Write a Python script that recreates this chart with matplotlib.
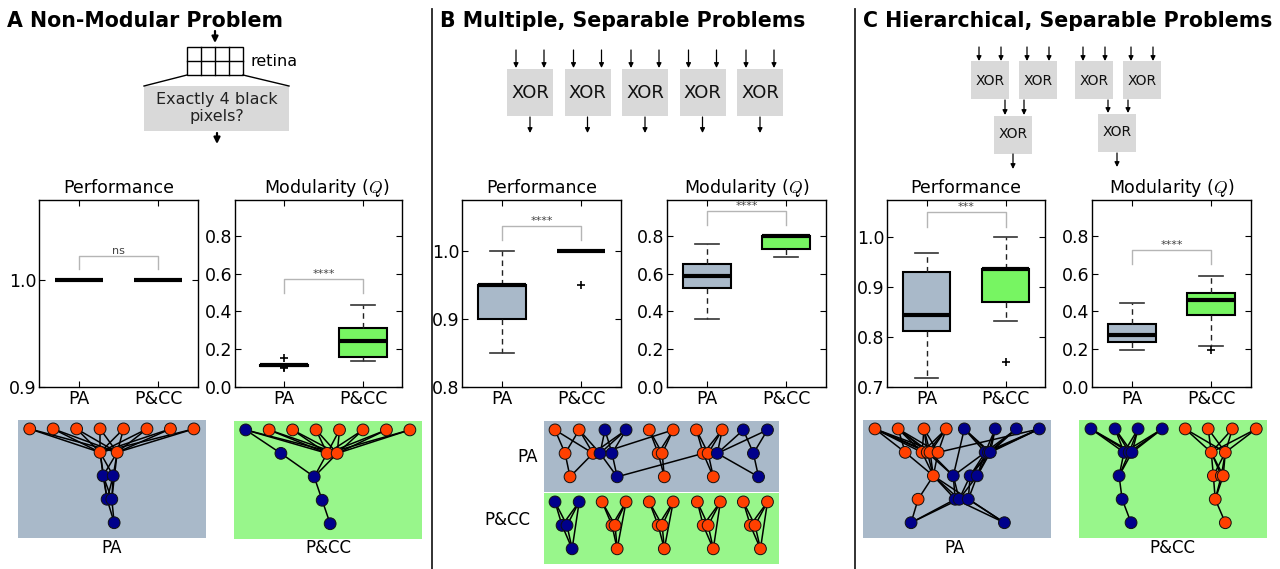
import numpy as np
import matplotlib
matplotlib.use("Agg")
import matplotlib.pyplot as plt
from matplotlib.patches import Rectangle
from matplotlib.collections import LineCollection
from matplotlib.ticker import FormatStrFormatter

plt.rcParams["mathtext.fontset"] = "cm"

# ---------------- data ----------------
GROUPS = ["PA", "P&CC"]

# box stats: [whislo, q1, med, q3, whishi]
A_PERF_PA = [1.0, 1.0, 1.0, 1.0, 1.0]
A_PERF_PCC = [1.0, 1.0, 1.0, 1.0, 1.0]
A_MOD_PA = [0.112, 0.111, 0.114, 0.117, 0.118]
A_MOD_PA_FLIERS = [0.153, 0.100, 0.106]
A_MOD_PCC = [0.14, 0.16, 0.245, 0.311, 0.435]

B_PERF_PA = [0.85, 0.90, 0.95, 0.95, 1.0]
B_PERF_PCC = [1.0, 1.0, 1.0, 1.0, 1.0]
B_PERF_PCC_FLIERS = [0.95]
B_MOD_PA = [0.359, 0.526, 0.590, 0.651, 0.757]
B_MOD_PCC = [0.688, 0.731, 0.80, 0.80, 0.80]

C_PERF_PA = [0.719, 0.813, 0.844, 0.931, 0.969]
C_PERF_PCC = [0.832, 0.870, 0.937, 0.937, 1.0]
C_PERF_PCC_FLIERS = [0.75]
C_MOD_PA = [0.196, 0.238, 0.276, 0.334, 0.443]
C_MOD_PCC = [0.215, 0.380, 0.460, 0.496, 0.588]
C_MOD_PCC_FLIERS = [0.194]

# significance: (label, leg bottom, bracket top)
SIG_A_PERF = ("ns", 1.010, 1.023)
SIG_A_MOD = ("****", 0.496, 0.572)
SIG_B_PERF = ("****", 1.016, 1.037)
SIG_B_MOD = ("****", 0.857, 0.933)
SIG_C_PERF = ("***", 1.021, 1.050)
SIG_C_MOD = ("****", 0.649, 0.725)

# networks: node x (in node spacings), layer, colour (r/b), edges
NA_PA_X = [0.5, 1.5, 2.5, 3.5, 4.5, 5.5, 6.5, 7.5, 3.5, 4.23, 3.63, 4.06, 3.8, 4.0, 4.1]
NA_PA_L = [0, 0, 0, 0, 0, 0, 0, 0, 1, 1, 2, 2, 3, 3, 4]
NA_PA_C = "rrrrrrrrrrbbbbb"

NA_PCC_X = [0.5, 1.5, 2.5, 3.5, 4.5, 5.5, 6.5, 7.5, 2.0, 3.97, 4.4, 3.42, 3.76, 4.1]
NA_PCC_L = [0, 0, 0, 0, 0, 0, 0, 0, 1, 1, 1, 2, 3, 4]
NA_PCC_C = "brrrrrrrbrrbbb"

NB_PA_X = [0.47, 1.5, 2.6, 3.5, 4.49, 5.51, 6.5, 7.6, 8.5, 9.53,
           0.9, 2.09, 2.39, 2.9, 4.87, 5.04, 6.79, 7.0, 7.39, 8.93,
           1.11, 3.12, 5.13, 7.22, 9.15]
NB_PA_L = [0] * 10 + [1] * 10 + [2] * 5
NB_PA_C = "rrbbrrrrbb" + "rrbbrrrrbb" + "rbrrb"

NB_PCC_X = [0.47, 1.5, 2.48, 3.5, 4.49, 5.51, 6.54, 7.52, 8.5, 9.53,
            0.77, 0.98, 2.9, 3.03, 4.87, 5.04, 6.79, 7.0, 8.8, 9.0,
            1.2, 3.12, 5.13, 7.22, 9.23]
NB_PCC_L = [0] * 10 + [1] * 10 + [2] * 5
NB_PCC_C = "bbrrrrrrrr" + "bbrrrrrrrr" + "brrrr"

NC_PA_X = [0.51, 1.5, 2.6, 3.55, 4.32, 5.64, 6.54, 7.52,
           1.8, 2.52, 2.74, 2.86, 3.2, 5.21, 5.35, 5.43,
           3.0, 3.85, 4.57, 4.87,
           2.35, 3.93, 4.1, 4.49,
           2.05, 6.03]
NC_PA_L = [0] * 8 + [1] * 8 + [2] * 4 + [3] * 4 + [4] * 2
NC_PA_C = "rrrrbbbb" + "rrrrrbbb" + "rbbb" + "rbbb" + "bb"

NC_PCC_X = [0.51, 1.54, 2.52, 3.55, 4.53, 5.51, 6.54, 7.56,
            1.92, 2.14, 2.26, 5.64, 6.24,
            1.71, 5.73, 6.07, 6.15,
            1.84, 5.81,
            2.22, 6.24]
NC_PCC_L = [0] * 8 + [1] * 5 + [2] * 4 + [3] * 2 + [4] * 2
NC_PCC_C = "bbbbrrrr" + "bbbrr" + "brrr" + "br" + "br"


def full(a, b):
    return [(i, j) for i in a for j in b]


NA_PA_E = full(range(8), [8, 9]) + [(8, 10), (8, 11), (9, 10), (9, 11), (8, 12), (9, 13),
                                    (10, 12), (10, 13), (11, 12), (11, 13), (12, 14), (13, 14)]
NA_PCC_E = [(0, 8), (0, 9), (0, 10)] + full(range(1, 8), [9, 10]) + \
    [(8, 11), (9, 11), (10, 11), (11, 12), (12, 13)]

NB_PA_E = [(0, 10), (0, 11), (1, 10), (1, 11), (10, 20), (11, 20),
           (2, 12), (2, 13), (3, 12), (3, 13), (12, 21), (13, 21),
           (4, 14), (4, 15), (5, 14), (5, 15), (14, 22), (15, 22),
           (6, 16), (6, 17), (7, 16), (7, 17), (16, 23), (17, 23),
           (8, 18), (8, 19), (9, 18), (9, 19), (18, 24), (19, 24),
           (11, 3), (12, 5), (21, 16), (7, 18), (1, 12)]
NB_PCC_E = []
for m in range(5):
    NB_PCC_E += [(2 * m, 10 + 2 * m), (2 * m, 11 + 2 * m), (2 * m + 1, 10 + 2 * m),
                 (2 * m + 1, 11 + 2 * m), (10 + 2 * m, 20 + m), (11 + 2 * m, 20 + m),
                 (2 * m + 1, 20 + m)]

NC_PA_E = full([0, 1, 2, 3], [9, 10, 11, 12]) + [(0, 8), (1, 8), (12, 7)] + \
    full([4, 5, 6, 7], [13, 14, 15]) + \
    [(8, 16), (9, 16), (10, 16), (11, 16), (12, 16), (10, 17), (11, 17), (4, 17)] + \
    full([13, 14, 15], [18, 19]) + [(13, 17)] + \
    [(16, 20), (16, 21), (16, 22), (17, 21), (17, 22), (18, 22), (18, 23), (19, 23), (19, 22)] + \
    [(20, 24), (21, 24), (22, 24), (21, 25), (23, 25), (16, 25)]
NC_PCC_E = full([0, 1, 2, 3], [8, 9, 10]) + [(8, 13), (9, 13), (10, 13), (13, 17), (17, 19)] + \
    full([4, 5, 6, 7], [11, 12]) + full([11, 12], [14, 15, 16]) + \
    [(14, 18), (15, 18), (16, 18), (18, 20)]

# ---------------- style / layout ----------------
W, H = 1280, 569
PA_COL = "#a9b9c9"
PCC_BOX = "#77f562"
PCC_BG = "#98f68b"
RED = "#ff4000"
BLUE = "#00008b"
GRAY_BOX = "#d9d9d9"
UNIT = 23.45  # px per node spacing

fig = plt.figure(figsize=(12.8, 5.69), dpi=100)


def px_axes(x0, y0, x1, y1, **kw):
    return fig.add_axes([x0 / W, 1 - y1 / H, (x1 - x0) / W, (y1 - y0) / H], **kw)


def draw_box(ax, pa, pcc, fl_pa, fl_pcc, sig, ylim, yticks, title, xlim=(0.5, 2.5), tx=0.5):
    stats = []
    for s, f, name in zip([pa, pcc], [fl_pa, fl_pcc], GROUPS):
        stats.append(dict(whislo=s[0], q1=s[1], med=s[2], q3=s[3], whishi=s[4],
                          fliers=f, label=name))
    res = ax.bxp(stats, positions=[1, 2], widths=0.6, patch_artist=True,
                 boxprops=dict(edgecolor="k", linewidth=1.5),
                 medianprops=dict(color="k", linewidth=3.0, solid_capstyle="butt"),
                 whiskerprops=dict(color="#222222", linestyle=(0, (4, 3)), linewidth=1.0),
                 capprops=dict(color="#333333", linewidth=1.2),
                 flierprops=dict(marker="+", markeredgecolor="k", markersize=6,
                                 markeredgewidth=1.2, linestyle="none"))
    for patch, col in zip(res["boxes"], [PA_COL, PCC_BOX]):
        patch.set_facecolor(col)
    label, lo, hi = sig
    ax.plot([1, 1, 2, 2], [lo, hi, hi, lo], color="#b5b5b5", lw=1.0)
    ax.text(1.5, hi, label, ha="center", va="bottom", fontsize=8, color="#444444")
    ax.set_xlim(*xlim)
    ax.set_ylim(*ylim)
    ax.set_yticks(yticks)
    ax.yaxis.set_major_formatter(FormatStrFormatter("%.1f"))
    ax.set_xticks([1, 2])
    ax.set_xticklabels(GROUPS)
    ax.tick_params(direction="in", top=True, right=True, length=4, width=0.8,
                   labelsize=12.5, pad=2)
    for sp in ax.spines.values():
        sp.set_linewidth(1.0)
    ax.set_title(title, fontsize=12.5, pad=5, x=tx)


MOD_TICKS = [0.0, 0.2, 0.4, 0.6, 0.8]
MOD_TITLE = "Modularity ($Q$)"

ax = px_axes(39, 200, 198, 387)
draw_box(ax, A_PERF_PA, A_PERF_PCC, [], [], SIG_A_PERF, (0.9, 1.075), [0.9, 1.0], "Performance")
ax = px_axes(235, 200, 402, 387)
draw_box(ax, A_MOD_PA, A_MOD_PCC, A_MOD_PA_FLIERS, [], SIG_A_MOD, (0, 0.99), MOD_TICKS,
         MOD_TITLE, xlim=(0.38, 2.49), tx=0.55)

ax = px_axes(462, 200, 621, 387)
draw_box(ax, B_PERF_PA, B_PERF_PCC, [], B_PERF_PCC_FLIERS, SIG_B_PERF, (0.8, 1.075),
         [0.8, 0.9, 1.0], "Performance")
ax = px_axes(667, 200, 826, 387)
draw_box(ax, B_MOD_PA, B_MOD_PCC, [], [], SIG_B_MOD, (0, 0.99), MOD_TICKS, MOD_TITLE)

ax = px_axes(887, 200, 1045, 387)
draw_box(ax, C_PERF_PA, C_PERF_PCC, [], C_PERF_PCC_FLIERS, SIG_C_PERF, (0.7, 1.075),
         [0.7, 0.8, 0.9, 1.0], "Performance")
ax = px_axes(1092, 200, 1251, 387)
draw_box(ax, C_MOD_PA, C_MOD_PCC, [], C_MOD_PCC_FLIERS, SIG_C_MOD, (0, 0.99), MOD_TICKS, MOD_TITLE)


# ---------------- networks ----------------
def draw_net(box, xs, layers, cols, edges, bg):
    x0, y0, x1, y1 = box
    ax = px_axes(x0, y0, x1, y1)
    ax.set_facecolor(bg)
    off = 0.38
    ax.set_xlim(0, (x1 - x0) / UNIT)
    ax.set_ylim((y1 - y0) / UNIT - off, -off)
    xs = np.asarray(xs, float)
    ys = np.asarray(layers, float)
    segs = [[(xs[i], ys[i]), (xs[j], ys[j])] for i, j in edges]
    ax.add_collection(LineCollection(segs, colors="k", linewidths=1.1, zorder=2))
    c = [RED if ch == "r" else BLUE for ch in cols]
    ax.scatter(xs, ys, s=72, c=c, edgecolors="#111111", linewidths=0.7, zorder=3)
    ax.set_xticks([])
    ax.set_yticks([])
    for sp in ax.spines.values():
        sp.set_visible(False)


draw_net((18, 420, 206, 538), NA_PA_X, NA_PA_L, NA_PA_C, NA_PA_E, PA_COL)
draw_net((234, 421, 422, 539), NA_PCC_X, NA_PCC_L, NA_PCC_C, NA_PCC_E, PCC_BG)
draw_net((544, 421, 779, 492), NB_PA_X, NB_PA_L, NB_PA_C, NB_PA_E, PA_COL)
draw_net((544, 493, 779, 564), NB_PCC_X, NB_PCC_L, NB_PCC_C, NB_PCC_E, PCC_BG)
draw_net((863, 420, 1051, 538), NC_PA_X, NC_PA_L, NC_PA_C, NC_PA_E, PA_COL)
draw_net((1079, 420, 1267, 538), NC_PCC_X, NC_PCC_L, NC_PCC_C, NC_PCC_E, PCC_BG)

# ---------------- overlay: titles, diagrams, dividers ----------------
ov = fig.add_axes([0, 0, 1, 1], zorder=10)
ov.set_xlim(0, W)
ov.set_ylim(H, 0)
ov.axis("off")

ov.text(7, 27, "A Non-Modular Problem", fontsize=14.8, fontweight="bold", va="baseline")
ov.text(440, 27, "B Multiple, Separable Problems", fontsize=14.8, fontweight="bold", va="baseline")
ov.text(863, 27, "C Hierarchical, Separable Problems", fontsize=14.8, fontweight="bold",
        va="baseline")

ov.plot([432, 432], [9, H], color="#222222", lw=1.3)
ov.plot([855, 855], [9, H], color="#222222", lw=1.3)


def arrow(x, y0, y1, lw=0.9, ms=7):
    ov.annotate("", xy=(x, y1), xytext=(x, y0),
                arrowprops=dict(arrowstyle="-|>", color="k", lw=lw, mutation_scale=ms,
                                shrinkA=0, shrinkB=0))


# panel A diagram
arrow(215, 31, 43, lw=1.6, ms=9)
gx0, gx1, gy0, gy1 = 187, 243, 47, 75
ov.add_patch(Rectangle((gx0, gy0), gx1 - gx0, gy1 - gy0, fill=False, ec="k", lw=1.0))
for k in range(1, 4):
    xx = gx0 + k * (gx1 - gx0) / 4
    ov.plot([xx, xx], [gy0, gy1], color="k", lw=1.0)
ov.plot([gx0, gx1], [(gy0 + gy1) / 2] * 2, color="k", lw=1.0)
ov.text(250, 61, "retina", fontsize=11.5, ha="left", va="center")
ov.plot([gx0, 144], [gy1, 86], color="k", lw=1.0)
ov.plot([gx1, 289], [gy1, 86], color="k", lw=1.0)
ov.add_patch(Rectangle((144, 86), 145, 45, fc=GRAY_BOX, ec="none"))
ov.text(217, 108, "Exactly 4 black\npixels?", fontsize=11.5, ha="center", va="center",
        linespacing=1.2, color="#222222")
arrow(217, 133, 144, lw=1.6, ms=9)

# panel B diagram
for i in range(5):
    left = 507 + 57.5 * i
    ov.add_patch(Rectangle((left, 69), 46, 47, fc=GRAY_BOX, ec="none"))
    ov.text(left + 23, 93, "XOR", fontsize=13, ha="center", va="center", color="#111111")
    arrow(left + 9, 50, 68)
    arrow(left + 37, 50, 68)
    arrow(left + 23, 117, 133)

# panel C diagram
for left in [971, 1019, 1075, 1123]:
    ov.add_patch(Rectangle((left, 61), 38, 38, fc=GRAY_BOX, ec="none"))
    ov.text(left + 19, 81, "XOR", fontsize=10, ha="center", va="center", color="#111111")
    arrow(left + 8, 47, 61)
    arrow(left + 30, 47, 61)
for left, top in [(994, 116), (1098, 114)]:
    ov.add_patch(Rectangle((left, top), 38, 38, fc=GRAY_BOX, ec="none"))
    ov.text(left + 19, top + 18, "XOR", fontsize=10, ha="center", va="center", color="#111111")
arrow(1005, 100, 115)
arrow(1024, 100, 115)
arrow(1108, 100, 113)
arrow(1128, 100, 113)
arrow(1013, 154, 169)
arrow(1117, 153, 167)

# network labels
ov.text(112, 548, "PA", fontsize=12, ha="center", va="center")
ov.text(328, 548, "P&CC", fontsize=12, ha="center", va="center")
ov.text(528, 457, "PA", fontsize=12, ha="center", va="center")
ov.text(507, 520, "P&CC", fontsize=12, ha="center", va="center")
ov.text(955, 548, "PA", fontsize=12, ha="center", va="center")
ov.text(1172, 548, "P&CC", fontsize=12, ha="center", va="center")

fig.savefig("out.png", dpi=100)
